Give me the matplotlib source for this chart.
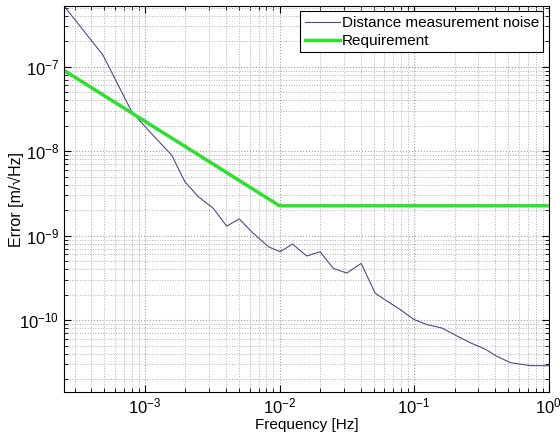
import matplotlib
matplotlib.use("Agg")
import matplotlib.pyplot as plt

noise_f = [2.54e-4, 4.88e-4, 8.0e-4, 1.1e-3, 1.58e-3, 1.98e-3, 2.49e-3, 3.22e-3,
           4.05e-3, 5.02e-3, 6.38e-3, 8.26e-3, 1.01e-2, 1.25e-2, 1.59e-2, 2.0e-2,
           2.51e-2, 3.16e-2, 4.04e-2, 5.13e-2, 6.27e-2, 7.87e-2, 9.89e-2, 0.124,
           0.161, 0.202, 0.261, 0.337, 0.412, 0.518, 0.728, 1.0]
noise_e = [5.09e-7, 1.37e-7, 2.91e-8, 1.66e-8, 9.0e-9, 4.36e-9, 2.9e-9, 2.11e-9,
           1.30e-9, 1.58e-9, 1.07e-9, 7.41e-10, 6.47e-10, 7.98e-10, 5.75e-10, 6.47e-10,
           4.11e-10, 3.62e-10, 4.71e-10, 2.10e-10, 1.69e-10, 1.34e-10, 1.03e-10, 8.9e-11,
           8.1e-11, 6.68e-11, 5.42e-11, 4.56e-11, 3.74e-11, 3.16e-11, 2.91e-11, 2.90e-11]

# requirement curve
req_f = [2.5e-4, 1e-2, 1.0]
req_e = [9.05e-8, 2.26e-9, 2.26e-9]

plt.rcParams["font.family"] = ["Liberation Sans", "DejaVu Sans"]
plt.rcParams["mathtext.fontset"] = "custom"
plt.rcParams["mathtext.rm"] = "Liberation Sans"
plt.rcParams["mathtext.it"] = "Liberation Sans:italic"

fig = plt.figure(figsize=(5.6, 4.36), dpi=100)
ax = fig.add_axes([0.114, 0.101, 0.866, 0.885])

ax.loglog(noise_f, noise_e, color="#4b4b8c", lw=0.8, label="Distance measurement noise")
ax.loglog(req_f, req_e, color="#2ee02e", lw=2.5, label="Requirement")

ax.set_xlim(2.5e-4, 1.0)
ax.set_ylim(1.42e-11, 5.2e-7)
ax.grid(True, which="major", ls=":", color="#a0a0a0", lw=0.8)
ax.grid(True, which="minor", ls=":", color="#b0b0b0", lw=0.7)
ax.tick_params(which="both", direction="in", top=True, right=True, labelsize=12)
ax.tick_params(which="major", length=5)
ax.tick_params(which="minor", length=3)
ax.set_xlabel("Frequency [Hz]", fontsize=11, labelpad=1)
ax.set_ylabel("Error [m/\u221aHz]", fontsize=11.5)
ax.yaxis.set_label_coords(-0.083, 0.5)

leg = ax.legend(loc="upper right", fontsize=11, fancybox=False, framealpha=1,
                edgecolor="black", borderaxespad=0.35, handlelength=2.3,
                handletextpad=0.1, borderpad=0.3, labelspacing=0.25)
leg.get_frame().set_linewidth(0.8)

fig.savefig("out.png", dpi=100)
